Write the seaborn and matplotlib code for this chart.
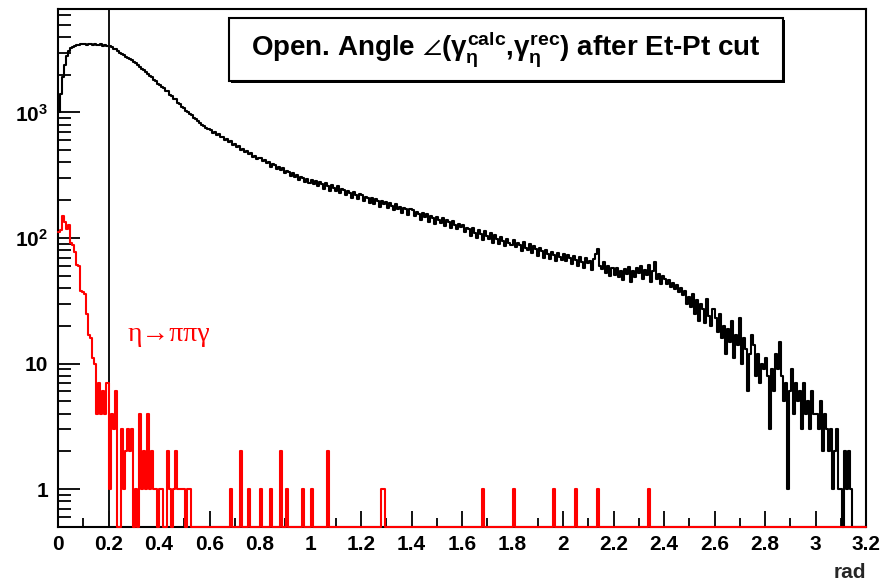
import numpy as np
import pandas as pd
import matplotlib
matplotlib.use("Agg")
import matplotlib.pyplot as plt
import seaborn as sns
from matplotlib.patches import Rectangle
from matplotlib.ticker import FixedLocator, FuncFormatter, LogLocator, NullFormatter, MultipleLocator

# ---- histogram binning (rad): 400 bins on [0, 3.2] ----
bin_width = 0.008
x_lo, x_hi = 0.0, 3.2
edges = np.round(np.arange(x_lo, x_hi + bin_width / 2, bin_width), 6)
centers = edges[:-1] + bin_width / 2

# opening angle between calculated and reconstructed eta photon, after Et-Pt cut
# (one row = 25 bins = 0.2 rad)
all_counts = [
    1000, 1400, 1900, 2400, 2800, 3100, 3250, 3330, 3400, 3450, 3420, 3500, 3480, 3530, 3460, 3510, 3490, 3440, 3520, 3470, 3430, 3480, 3410, 3450, 3390,
    3380, 3340, 3230, 3180, 3070, 3000, 2900, 2870, 2780, 2740, 2650, 2610, 2510, 2460, 2380, 2310, 2220, 2180, 2090, 2020, 1960, 1900, 1820, 1780, 1690,
    1650, 1590, 1570, 1490, 1470, 1390, 1360, 1290, 1270, 1200, 1170, 1110, 1090, 1030, 1010, 970, 950, 905, 885, 850, 830, 800, 785, 750, 735,
    722, 692, 696, 660, 669, 634, 641, 604, 614, 580, 590, 552, 563, 528, 540, 505, 516, 486, 494, 463, 474, 446, 454, 428, 437,
    431, 409, 418, 396, 402, 371, 390, 380, 352, 366, 349, 361, 331, 340, 338, 310, 327, 305, 316, 292, 306, 299, 280, 296, 274,
    292, 270, 287, 259, 279, 271, 248, 272, 260, 239, 264, 251, 236, 258, 229, 245, 240, 219, 238, 228, 207, 231, 222, 204, 225,
    220, 198, 214, 209, 191, 207, 188, 203, 197, 176, 199, 186, 193, 174, 190, 180, 166, 187, 171, 178, 159, 175, 169, 152, 170,
    166, 149, 161, 155, 140, 158, 147, 156, 135, 151, 144, 130, 148, 139, 132, 145, 124, 138, 133, 121, 137, 126, 117, 129, 123,
    127, 111, 121, 117, 104, 120, 110, 101, 116, 108, 96, 113, 104, 99, 110, 92, 105, 98, 89, 102, 95, 86, 99, 91, 88,
    96, 85, 92, 88, 79, 93, 84, 80, 89, 76, 86, 82, 72, 84, 79, 70, 81, 75, 68, 78, 73, 66, 76, 71, 67,
    75, 66, 73, 69, 62, 72, 67, 60, 71, 64, 58, 69, 63, 66, 56, 68, 74, 82, 60, 57, 64, 53, 60, 50, 58,
    51, 58, 49, 55, 46, 57, 52, 59, 45, 55, 49, 58, 53, 60, 47, 56, 51, 61, 45, 55, 64, 47, 52, 43, 50,
    47, 43, 46, 41, 44, 39, 42, 37, 40, 35, 38, 30, 34, 28, 36, 25, 32, 22, 30, 27, 21, 33, 24, 20, 27,
    23, 18, 25, 16, 20, 12, 19, 15, 22, 11, 17, 14, 23, 10, 16, 13, 6, 12, 17, 14, 8, 12, 7, 10, 9,
    11, 8, 3, 9, 6, 12, 9, 15, 8, 5, 7, 1, 6, 9, 4, 7, 5, 6, 3, 7, 4, 5, 3, 6, 4,
    4, 3, 5, 2, 4, 3, 2, 3, 1, 2, 3, 1, 1, 0, 2, 1, 2, 1, 0, 0, 0, 0, 0, 0, 0,
]

# eta -> pi pi gamma contribution
eta_ppg_counts = [
    112, 115, 150, 135, 118, 128, 92, 88, 78, 61, 60, 38, 37, 36, 25, 17, 16, 11, 10, 4, 7, 4, 6, 4, 7,
    1, 4, 3, 6, 0, 0, 3, 1, 2, 3, 2, 3, 0, 1, 0, 4, 1, 2, 1, 4, 1, 2, 1, 1, 0,
    1, 1, 0, 0, 2, 1, 0, 1, 2, 1, 1, 1, 1, 0, 1, 1, 0, 0, 0, 0, 0, 0, 0, 0, 0,
    0, 0, 0, 0, 0, 0, 0, 0, 0, 0, 1, 0, 0, 0, 0, 2, 0, 0, 0, 1, 0, 0, 0, 0, 0,
    1, 0, 0, 0, 0, 1, 0, 0, 0, 0, 2, 0, 0, 1, 0, 0, 0, 0, 0, 0, 0, 1, 0, 0, 0,
    1, 0, 0, 0, 0, 0, 0, 0, 2, 0, 0, 0, 0, 0, 0, 0, 0, 0, 0, 0, 0, 0, 0, 0, 0,
    0, 0, 0, 0, 0, 0, 0, 0, 0, 0, 1, 1, 0, 0, 0, 0, 0, 0, 0, 0, 0, 0, 0, 0, 0,
    0, 0, 0, 0, 0, 0, 0, 0, 0, 0, 0, 0, 0, 0, 0, 0, 0, 0, 0, 0, 0, 0, 0, 0, 0,
    0, 0, 0, 0, 0, 0, 0, 0, 0, 0, 1, 0, 0, 0, 0, 0, 0, 0, 0, 0, 0, 0, 0, 0, 0,
    1, 0, 0, 0, 0, 0, 0, 0, 0, 0, 0, 0, 0, 0, 0, 0, 0, 0, 0, 0, 1, 0, 0, 0, 0,
    0, 0, 0, 0, 0, 0, 1, 0, 0, 0, 0, 0, 0, 0, 0, 0, 0, 1, 0, 0, 0, 0, 0, 0, 0,
    0, 0, 0, 0, 0, 0, 0, 0, 0, 0, 0, 0, 0, 0, 0, 0, 0, 1, 0, 0, 0, 0, 0, 0, 0,
    0, 0, 0, 0, 0, 0, 0, 0, 0, 0, 0, 0, 0, 0, 0, 0, 0, 0, 0, 0, 0, 0, 0, 0, 0,
    0, 0, 0, 0, 0, 0, 0, 0, 0, 0, 0, 0, 0, 0, 0, 0, 0, 0, 0, 0, 0, 0, 0, 0, 0,
    0, 0, 0, 0, 0, 0, 0, 0, 0, 0, 0, 0, 0, 0, 0, 0, 0, 0, 0, 0, 0, 0, 0, 0, 0,
    0, 0, 0, 0, 0, 0, 0, 0, 0, 0, 0, 0, 0, 0, 0, 0, 0, 0, 0, 0, 0, 0, 0, 0, 0,
]

cut_value = 0.2
x_ticks = [0, 0.2, 0.4, 0.6, 0.8, 1, 1.2, 1.4, 1.6, 1.8, 2, 2.2, 2.4, 2.6, 2.8, 3, 3.2]
y_ticks = [1, 10, 100, 1000]
y_tick_labels = ["1", "10", r"$\mathregular{10^{2}}$", r"$\mathregular{10^{3}}$"]
y_lo, y_hi = 0.5, 6730

# ---- style ----
sns.set_theme(style="white")
plt.rcParams["font.family"] = ["Liberation Sans", "DejaVu Sans"]
plt.rcParams["mathtext.fontset"] = "custom"
plt.rcParams["mathtext.rm"] = "Liberation Sans:bold"
plt.rcParams["mathtext.it"] = "Liberation Sans:bold"
plt.rcParams["mathtext.bf"] = "Liberation Sans:bold"
plt.rcParams["mathtext.sf"] = "Liberation Sans:bold"
plt.rcParams["mathtext.fallback"] = "stixsans"

W, H = 883, 581
fig = plt.figure(figsize=(W / 100, H / 100), dpi=100)
fig.patch.set_facecolor("white")
ax = fig.add_axes([58 / W, 1 - 527 / H, (866 - 58) / W, (527 - 8.5) / H])
ax.set_facecolor("white")


# empty bins are drawn on the frame floor, as a log axis has no zero
def floored(counts):
    c = np.asarray(counts, dtype=float)
    return np.where(c > 0, c, y_lo)


hist_df = pd.DataFrame({
    "angle": centers,
    "all": floored(all_counts),
    "eta_ppg": floored(eta_ppg_counts),
})

sns.histplot(data=hist_df, x="angle", weights="all", bins=list(edges), element="step",
             fill=False, color="black", linewidth=1.5, ax=ax)
ax.axvline(cut_value, color="#111111", linewidth=1.4)
sns.histplot(data=hist_df, x="angle", weights="eta_ppg", bins=list(edges), element="step",
             fill=False, color="#ff0000", linewidth=1.5, ax=ax)
for ln in ax.lines:
    ln.set_clip_on(False)
ax.lines[-1].set_zorder(3)

ax.set_yscale("log")
ax.set_xlim(x_lo, x_hi)
ax.set_ylim(y_lo, y_hi)
ax.set_xlabel("")
ax.set_ylabel("")

# axes & ticks
ax.xaxis.set_major_locator(FixedLocator(x_ticks))
ax.xaxis.set_major_formatter(FuncFormatter(lambda v, p: f"{round(v, 1):g}"))
ax.xaxis.set_minor_locator(MultipleLocator(0.1))
ax.yaxis.set_major_locator(FixedLocator(y_ticks))


def y_fmt(v, p):
    k = int(round(v))
    return y_tick_labels[y_ticks.index(k)] if k in y_ticks else ""


ax.yaxis.set_major_formatter(FuncFormatter(y_fmt))
ax.yaxis.set_minor_locator(LogLocator(base=10, subs=range(2, 10)))
ax.yaxis.set_minor_formatter(NullFormatter())

ax.tick_params(axis="x", which="major", direction="in", length=11.5, width=1.3,
               pad=6, labelsize=15, top=False, bottom=True, colors="black")
ax.tick_params(axis="x", which="minor", direction="in", length=6.5, width=1.3,
               top=False, bottom=True, colors="black")
ax.tick_params(axis="y", which="major", direction="in", length=16, width=1.3,
               pad=7, labelsize=15, left=True, right=False, colors="black")
ax.tick_params(axis="y", which="minor", direction="in", length=9.5, width=1.3,
               left=True, right=False, colors="black")
for lab in ax.get_xticklabels() + ax.get_yticklabels():
    lab.set_fontweight("bold")

for side in ["left", "bottom", "top", "right"]:
    ax.spines[side].set_visible(True)
    ax.spines[side].set_color("black")
    ax.spines[side].set_linewidth(1.5)

# channel label
ax.text(0.277, 17, "η→ππγ", color="#ff0000", fontsize=20,
        family=["Liberation Serif", "DejaVu Serif"], ha="left", va="center")

# title box with shadow
bx0, by0, bx1, by1 = 229, 18, 783, 81
fig.patches.append(Rectangle(((bx0 + 2) / W, 1 - (by1 + 2) / H), (bx1 - bx0) / W, (by1 - by0) / H,
                             transform=fig.transFigure, facecolor="black", edgecolor="black", lw=0))
fig.patches.append(Rectangle((bx0 / W, 1 - by1 / H), (bx1 - bx0) / W, (by1 - by0) / H,
                             transform=fig.transFigure, facecolor="white", edgecolor="black", lw=1.5))
fig.text((bx0 + bx1) / 2 / W, 1 - 49 / H,
         r"Open. Angle $\angle(\gamma_{\eta}^{calc}{,}\gamma_{\eta}^{rec})$ after Et-Pt cut",
         ha="center", va="center", fontsize=20, fontweight="bold", color="black")

fig.text(866 / W, 1 - 572 / H, "rad", ha="right", va="center", fontsize=15, fontweight="bold")

fig.savefig("out.png", dpi=100, facecolor="white")
